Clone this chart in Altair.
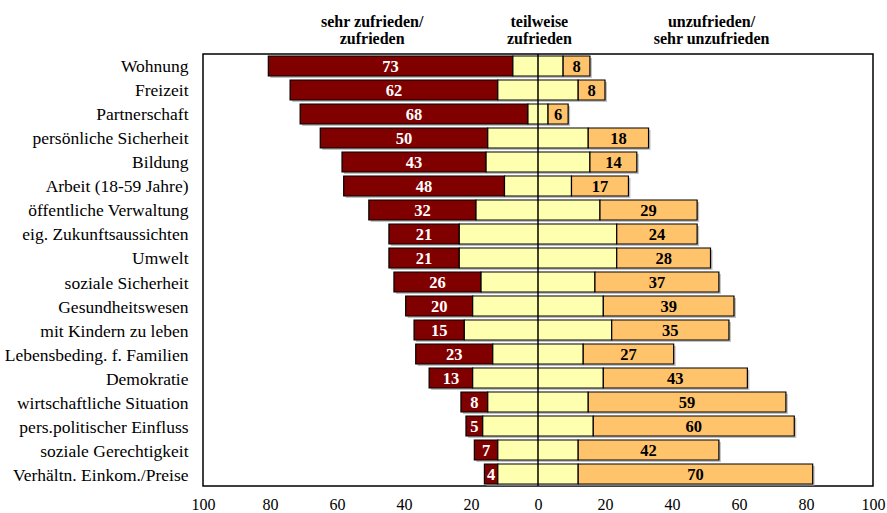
import altair as alt
import pandas as pd

# Survey topics, top to bottom
categories = [
    "Wohnung", "Freizeit", "Partnerschaft", "persönliche Sicherheit", "Bildung",
    "Arbeit (18-59 Jahre)", "öffentliche Verwaltung", "eig. Zukunftsaussichten",
    "Umwelt", "soziale Sicherheit", "Gesundheitswesen", "mit Kindern zu leben",
    "Lebensbeding. f. Familien", "Demokratie", "wirtschaftliche Situation",
    "pers.politischer Einfluss", "soziale Gerechtigkeit", "Verhältn. Einkom./Preise",
]
# Shares in percent
satisfied = [73, 62, 68, 50, 43, 48, 32, 21, 21, 26, 20, 15, 23, 13, 8, 5, 7, 4]
partly = [15, 24, 6, 30, 31, 20, 37, 47, 47, 34, 39, 44, 27, 39, 30, 33, 24, 24]
dissatisfied = [8, 8, 6, 18, 14, 17, 29, 24, 28, 37, 39, 35, 27, 43, 59, 60, 42, 70]

x_ticks = [-100, -80, -60, -40, -20, 0, 20, 40, 60, 80, 100]

# Column headings, two lines each
header_top = ["sehr zufrieden/", "teilweise", "unzufrieden/"]
header_bottom = ["zufrieden", "zufrieden", "sehr unzufrieden"]
header_x = [-49.5, 0.4, 51.8]

# Diverging layout: the "partly" block is centred on zero
rows = []
for cat, s, p, u in zip(categories, satisfied, partly, dissatisfied):
    h = p / 2
    rows.append(dict(cat=cat, grp="sat", x=-h - s, x2=-h, label=str(s)))
    rows.append(dict(cat=cat, grp="part", x=-h, x2=h, label=""))
    rows.append(dict(cat=cat, grp="unsat", x=h, x2=h + u, label=str(u)))
df = pd.DataFrame(rows)

SERIF = "Liberation Serif"

xscale = alt.Scale(domain=[-100, 100], nice=False, zero=False)
yscale = alt.Scale(domain=categories, paddingInner=0.167, paddingOuter=0.083)
colors = alt.Scale(domain=["sat", "part", "unsat"],
                   range=["#800000", "#FFFFB0", "#FFC36B"])

base = alt.Chart(df)

shadow = base.mark_bar(color="#9a9a9a", opacity=0.6, xOffset=2, yOffset=2, x2Offset=2, y2Offset=2).encode(
    x=alt.X("x:Q", scale=xscale),
    x2="x2:Q",
    y=alt.Y("cat:N", scale=yscale),
)

bars = base.mark_bar(stroke="black", strokeWidth=1.2).encode(
    x=alt.X(
        "x:Q", scale=xscale, title=None,
        axis=alt.Axis(values=x_ticks, labelExpr="abs(datum.value)", ticks=False,
                      domain=False, grid=False, labelFont=SERIF, labelFontSize=16,
                      labelColor="black", labelPadding=10, labelFlush=False),
    ),
    x2="x2:Q",
    y=alt.Y("cat:N", scale=yscale, title=None, sort=categories,
            axis=alt.Axis(ticks=False, domain=False, labelFont=SERIF, labelFontSize=17.5,
                          labelColor="black", labelPadding=15, labelLimit=300,
                          labelOffset=1.5)),
    color=alt.Color("grp:N", scale=colors, legend=None),
)

labels = base.transform_calculate(mid="(datum.x + datum.x2) / 2").mark_text(
    font=SERIF, fontSize=16.5, fontWeight="bold", baseline="middle", align="center", dy=1
).encode(
    x=alt.X("mid:Q", scale=xscale),
    y=alt.Y("cat:N", scale=yscale),
    text="label:N",
    color=alt.Color("grp:N", scale=alt.Scale(domain=["sat", "part", "unsat"],
                                             range=["white", "black", "black"]), legend=None),
)

zero_line = alt.Chart(pd.DataFrame({"x": [0]})).mark_rule(color="black", strokeWidth=1.5).encode(
    x=alt.X("x:Q", scale=xscale)
)

head_df = pd.DataFrame({"x": header_x, "t1": header_top, "t2": header_bottom})
head_style = dict(font=SERIF, fontSize=16, fontWeight="bold", baseline="middle", align="center")

header_line1 = alt.Chart(head_df).mark_text(**head_style).encode(
    x=alt.X("x:Q", scale=xscale), y=alt.value(-32), text="t1:N"
)
header_line2 = alt.Chart(head_df).mark_text(**head_style).encode(
    x=alt.X("x:Q", scale=xscale), y=alt.value(-15.5), text="t2:N"
)

chart = alt.layer(shadow, bars, labels, zero_line, header_line1, header_line2).resolve_scale(
    color="independent"
).properties(
    width=670, height=432,
    background="white",
    autosize=alt.AutoSizeParams(type="none"),
    padding={"left": 203, "top": 54, "right": 14, "bottom": 27},
).configure_view(
    stroke="black", strokeWidth=1.5
)

chart.save("out.html", embed_options={"renderer": "svg", "actions": False})
